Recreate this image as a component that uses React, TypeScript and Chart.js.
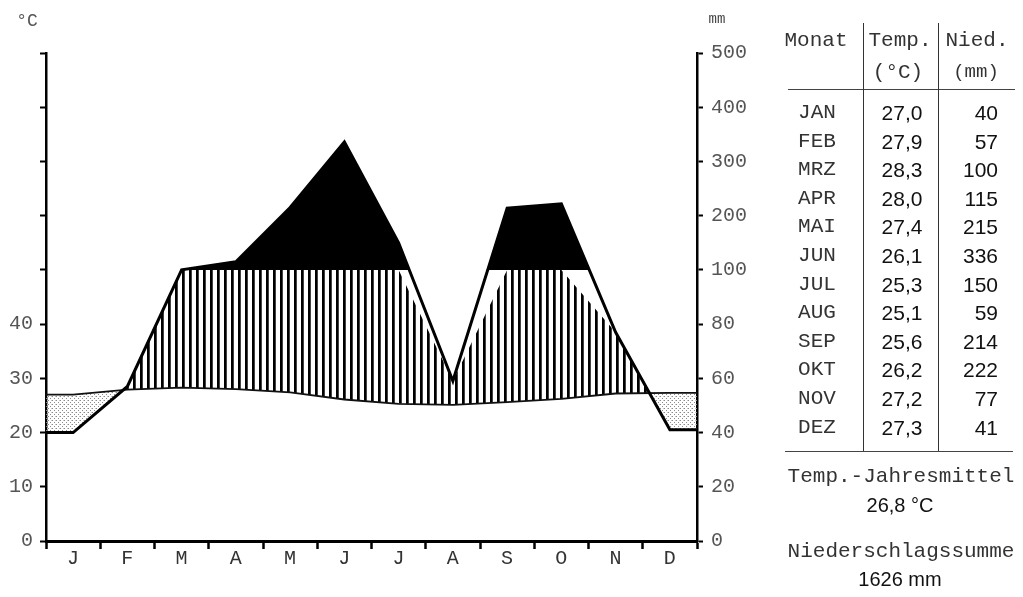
import React, { useEffect, useRef } from 'react';
import { Chart, registerables } from 'chart.js';

Chart.register(...registerables);

const monthLetters = ['J', 'F', 'M', 'A', 'M', 'J', 'J', 'A', 'S', 'O', 'N', 'D'];
const monthNames = ['JAN', 'FEB', 'MRZ', 'APR', 'MAI', 'JUN', 'JUL', 'AUG', 'SEP', 'OKT', 'NOV', 'DEZ'];
const temperature = [27.0, 27.9, 28.3, 28.0, 27.4, 26.1, 25.3, 25.1, 25.6, 26.2, 27.2, 27.3];
const precipitation = [40, 57, 100, 115, 215, 336, 150, 59, 214, 222, 77, 41];
const tempLabelMax = 40;

// Walter-Lieth scale: 10 °C = 20 mm up to 100 mm, above that 10 °C = 100 mm
const toDisplay = (mm: number) => (mm <= 100 ? mm / 2 : 50 + (mm - 100) / 10);
const fromDisplay = (v: number) => (v <= 50 ? v * 2 : 100 + (v - 50) * 10);

const toPoints = (vals: number[]) => [
  { x: 0, y: vals[0] },
  ...vals.map((y, i) => ({ x: i + 0.5, y })),
  { x: 12, y: vals[vals.length - 1] },
];

const MONO = '"Liberation Mono", "DejaVu Sans Mono", monospace';
const SANS = '"Liberation Sans", Arial, sans-serif';

function makeHatch(): CanvasPattern | string {
  const c = document.createElement('canvas');
  c.width = 7;
  c.height = 8;
  const g = c.getContext('2d');
  if (!g) return '#000';
  g.fillStyle = '#000';
  g.fillRect(0, 0, 2, 8);
  g.fillStyle = '#444';
  g.fillRect(2, 0, 1, 8);
  return g.createPattern(c, 'repeat') || '#000';
}

function makeDots(): CanvasPattern | string {
  const c = document.createElement('canvas');
  c.width = 4;
  c.height = 4;
  const g = c.getContext('2d');
  if (!g) return '#ccc';
  g.fillStyle = '#8a8a8a';
  g.fillRect(0, 0, 1, 1);
  g.fillRect(2, 2, 1, 1);
  g.fillStyle = '#c8c8c8';
  g.fillRect(3, 0, 1, 1);
  return g.createPattern(c, 'repeat') || '#ccc';
}

function ClimateChart() {
  const ref = useRef<HTMLCanvasElement>(null);
  useEffect(() => {
    if (!ref.current) return;
    const tempPts = toPoints(temperature);
    const precipCapped = toPoints(precipitation.map((p) => toDisplay(Math.min(p, 100))));
    const precipFull = toPoints(precipitation.map(toDisplay));
    const axisFont = { family: MONO, size: 20 };
    const chart = new Chart(ref.current, {
      type: 'line',
      data: {
        datasets: [
          {
            label: 'Temperatur',
            data: tempPts,
            borderColor: '#111',
            borderWidth: 1.8,
            pointRadius: 0,
            fill: false,
            order: 1,
          },
          {
            label: 'Niederschlag (bis 100 mm)',
            data: precipCapped,
            borderWidth: 0,
            borderColor: 'rgba(0,0,0,0)',
            pointRadius: 0,
            fill: { target: 0, above: makeHatch(), below: makeDots() },
            order: 2,
          },
          {
            label: 'Niederschlag',
            data: precipFull,
            borderColor: '#000',
            borderWidth: 3,
            pointRadius: 0,
            fill: { value: 50, above: '#000', below: 'rgba(0,0,0,0)' },
            order: 0,
          },
        ],
      },
      options: {
        animation: false,
        responsive: false,
        maintainAspectRatio: false,
        layout: { padding: { top: 53, left: 0, right: 0, bottom: 0 } },
        plugins: { legend: { display: false }, tooltip: { enabled: false } },
        elements: { line: { tension: 0 }, point: { radius: 0 } },
        scales: {
          x: {
            type: 'linear',
            min: 0,
            max: 12,
            afterBuildTicks: (s: any) => {
              s.ticks = Array.from({ length: 25 }, (_, i) => ({ value: i / 2 }));
            },
            afterFit: (s: any) => {
              s.height = 56;
            },
            ticks: {
              autoSkip: false,
              maxRotation: 0,
              padding: -2,
              color: '#333',
              font: { family: MONO, size: 20 },
              callback: (v: any) => (Number.isInteger(v) ? '' : monthLetters[Math.floor(v)]),
            },
            grid: {
              drawOnChartArea: false,
              tickLength: 8,
              tickWidth: 2.5,
              tickColor: (ctx: any) =>
                ctx.tick && Number.isInteger(ctx.tick.value) ? '#000' : 'rgba(0,0,0,0)',
            },
            border: { display: true, color: '#000', width: 3 },
          },
          y: {
            type: 'linear',
            position: 'left',
            min: 0,
            max: 90,
            afterFit: (s: any) => {
              s.width = 46;
            },
            ticks: {
              stepSize: 10,
              padding: 7,
              color: '#555',
              font: axisFont,
              callback: (v: any) => (v <= tempLabelMax ? String(v) : ''),
            },
            grid: { drawOnChartArea: false, tickLength: 6, tickWidth: 2, tickColor: '#000' },
            border: { display: true, color: '#000', width: 2.5 },
          },
          y2: {
            type: 'linear',
            position: 'right',
            min: 0,
            max: 90,
            afterFit: (s: any) => {
              s.width = 73;
            },
            ticks: {
              stepSize: 10,
              padding: 8,
              color: '#555',
              font: axisFont,
              callback: (v: any) => String(fromDisplay(v)),
            },
            grid: { drawOnChartArea: false, tickLength: 6, tickWidth: 2, tickColor: '#000' },
            border: { display: true, color: '#000', width: 2.5 },
          },
        },
      },
    } as any);
    return () => chart.destroy();
  }, []);
  return (
    <canvas
      ref={ref}
      width={770}
      height={597}
      style={{ position: 'absolute', left: 0, top: 0, width: 770, height: 597, display: 'block' }}
    />
  );
}

const fmt = (v: number) => v.toFixed(1).replace('.', ',');

function T(props: { x: number; y: number; font: string; size: number; color?: string; align?: 'center' | 'right'; children: any }) {
  const { x, y, font, size, color = '#222', align = 'center', children } = props;
  const style: any = {
    position: 'absolute',
    top: y,
    fontFamily: font,
    fontSize: size,
    color,
    lineHeight: 1,
    whiteSpace: 'nowrap',
  };
  if (align === 'center') {
    style.left = x;
    style.transform = 'translate(-50%, -50%)';
  } else {
    style.right = 1023 - x;
    style.transform = 'translateY(-50%)';
  }
  return <div style={style}>{children}</div>;
}

export default function App() {
  const meanTemp = temperature.reduce((a, b) => a + b, 0) / temperature.length;
  const sumPrecip = precipitation.reduce((a, b) => a + b, 0);
  const rowY0 = 112;
  const rowStep = 28.6;
  return (
    <div
      style={{
        position: 'fixed',
        left: 0,
        top: 0,
        width: 1023,
        height: 597,
        background: '#fff',
        overflow: 'hidden',
      }}
    >
      <ClimateChart />
      <T x={27} y={21} font={MONO} size={18} color="#555">°C</T>
      <T x={717} y={19} font={MONO} size={14} color="#444">mm</T>

      {/* table */}
      <T x={816} y={40} font={MONO} size={21} color="#333">Monat</T>
      <T x={900} y={40} font={MONO} size={21} color="#333">Temp.</T>
      <T x={977} y={40} font={MONO} size={21} color="#333">Nied.</T>
      <T x={898} y={72} font={MONO} size={21} color="#333">(°C)</T>
      <T x={976} y={72} font={MONO} size={19} color="#333">(mm)</T>
      <div style={{ position: 'absolute', left: 788, top: 89, width: 227, height: 0, borderTop: '1.5px solid #444' }} />
      <div style={{ position: 'absolute', left: 863, top: 23, width: 0, height: 428, borderLeft: '1.5px solid #333' }} />
      <div style={{ position: 'absolute', left: 938, top: 23, width: 0, height: 428, borderLeft: '1.5px solid #333' }} />
      {monthNames.map((m, i) => (
        <React.Fragment key={m}>
          <T x={817} y={rowY0 + i * rowStep} font={MONO} size={21} color="#333">{m}</T>
          <T x={902} y={rowY0 + i * rowStep} font={SANS} size={21} color="#111">{fmt(temperature[i])}</T>
          <T x={998} y={rowY0 + i * rowStep} font={SANS} size={21} color="#111" align="right">{String(precipitation[i])}</T>
        </React.Fragment>
      ))}
      <div style={{ position: 'absolute', left: 785, top: 451, width: 228, height: 0, borderTop: '1.5px solid #444' }} />
      <T x={901} y={476} font={MONO} size={21} color="#333">Temp.-Jahresmittel</T>
      <T x={900} y={505} font={SANS} size={20} color="#111">{fmt(meanTemp) + ' °C'}</T>
      <T x={901} y={551} font={MONO} size={21} color="#333">Niederschlagssumme</T>
      <T x={900} y={579} font={SANS} size={20} color="#111">{sumPrecip + ' mm'}</T>
    </div>
  );
}
